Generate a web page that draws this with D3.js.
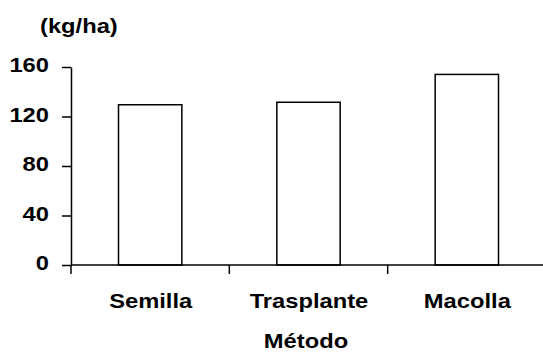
<!DOCTYPE html>
<html>
<head>
<meta charset="utf-8">
<script src="https://cdn.jsdelivr.net/npm/d3@7"></script>
<style>
html,body{margin:0;padding:0;background:#fff;}
text{font-family:"Liberation Sans",Arial,sans-serif;font-weight:bold;fill:#000;}
</style>
</head>
<body>
<svg id="chart" width="543" height="352"></svg>
<script>
const categories = ["Semilla", "Trasplante", "Macolla"];
const values = [129.5, 131.5, 154];
const yTicks = [0, 40, 80, 120, 160];
const yUnit = "(kg/ha)";
const xTitle = "Método";

const FS = 21, SX = 1.13;
const svg = d3.select("#chart");
const x0 = 71, yBase = 265, yTop = 67;
const x = d3.scaleBand().domain(categories).range([x0, 546]).paddingInner(0.6).paddingOuter(0.3);
const y = d3.scaleLinear().domain([0, 160]).range([yBase, yTop]);

function label(g, tx, ty, anchor, txt) {
  return g.append("text")
    .attr("transform", `translate(${tx},${ty}) scale(${SX},1)`)
    .attr("text-anchor", anchor).attr("font-size", FS).text(txt);
}

// bars
svg.append("g").selectAll("rect").data(categories).join("rect")
  .attr("x", d => x(d))
  .attr("y", (d, i) => y(values[i]))
  .attr("width", x.bandwidth())
  .attr("height", (d, i) => yBase - y(values[i]))
  .attr("fill", "#fff").attr("stroke", "#000").attr("stroke-width", 1.5);

// y axis
const yAxis = d3.axisLeft(y).tickValues(yTicks).tickSize(9).tickFormat("").tickSizeOuter(0);
const gy = svg.append("g").attr("transform", `translate(${x0},0)`).call(yAxis);
gy.select(".domain").attr("stroke-width", 1.5);
gy.selectAll(".tick line").attr("stroke-width", 1.5);
const gyl = svg.append("g");
yTicks.forEach(v => label(gyl, 49, y(v) + 5, "end", String(v)));

// x axis line
svg.append("line").attr("x1", x0).attr("x2", 543).attr("y1", yBase).attr("y2", yBase)
  .attr("stroke", "#000").attr("stroke-width", 1.5);
// x ticks at band boundaries
const gap = x.step() - x.bandwidth();
svg.append("g").selectAll("line").data(categories).join("line")
  .attr("x1", d => x(d) - gap / 2).attr("x2", d => x(d) - gap / 2)
  .attr("y1", yBase).attr("y2", yBase + 9)
  .attr("stroke", "#000").attr("stroke-width", 1.5);
// x labels
const gxl = svg.append("g");
categories.forEach(c => label(gxl, x(c) + x.bandwidth() / 2 + 0.5, 307.5, "middle", c));

label(svg, 306, 348, "middle", xTitle);
label(svg, 40, 32.5, "start", yUnit);
</script>
</body>
</html>
